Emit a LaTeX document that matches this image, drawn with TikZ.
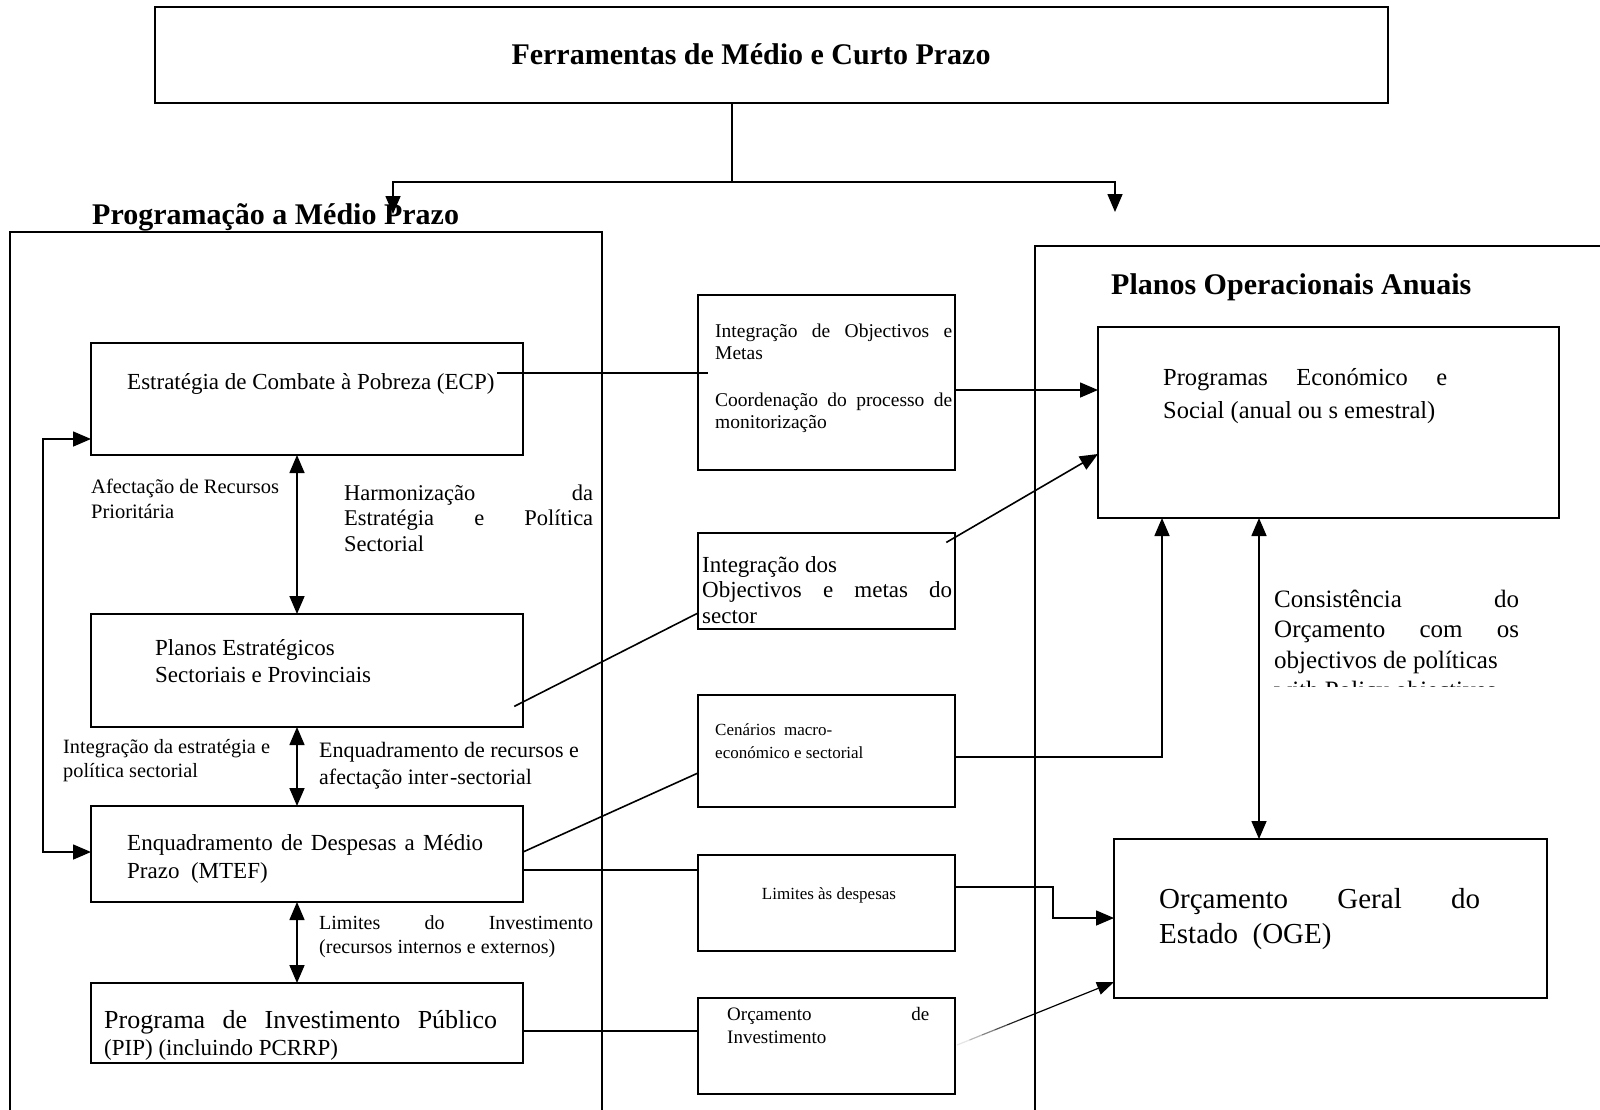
\documentclass[tikz,border=0pt]{standalone}
\usepackage{fontspec}
\setmainfont{Liberation Serif}
\usetikzlibrary{arrows.meta,calc}
% the ragged setting of a node fixes \spaceskip; \rs gives back the font's own spaces
\newcommand\rs{\spaceskip=0pt\xspaceskip=0pt\relax}
% one justified line spread over the width of the paragraph
\newcommand\jl[1]{\makebox[\hsize][s]{\rs #1}}
\newcommand\fsz[2]{\fontsize{#1}{#2}\selectfont}
\tikzset{
  frame/.style={draw, line width=1.6pt, rectangle, inner sep=0pt, outer sep=0pt, anchor=north west},
  conn/.style={line width=1.6pt, line cap=rect},
  arr/.style={conn, -{Triangle[length=18pt,width=15pt]}},
  darr/.style={conn, {Triangle[length=18pt,width=15pt]}-{Triangle[length=18pt,width=15pt]}},
  lbl/.style={inner sep=0pt, anchor=base west},
  para/.style={inner sep=0pt, anchor=base west, align=left, text width=#1},
  head/.style={inner sep=0pt, anchor=base west, font=\bfseries\fsz{30}{36}},
}
\begin{document}
\begin{tikzpicture}[x=1pt, y=-1pt]
\clip (0,0) rectangle (1600,1109);
\fill[white] (0,0) rectangle (1600,1109);

% ---- title and its split towards the two groups
\node[frame, minimum width=1233pt, minimum height=96pt] (top) at (155,7) {};
\node[head, anchor=base] (toptitle) at (751,64) {Ferramentas de Médio e Curto Prazo};

% ---- the two group frames (open towards the page edges)
\node[frame, minimum width=592pt, minimum height=920pt] (medio) at (10,232) {};
\node[head] (mediotitle) at (92,224) {Programação a Médio Prazo};
\node[frame, minimum width=620pt, minimum height=900pt] (anual) at (1035,246) {};
\node[head] (anualtitle) at (1111,294) {Planos Operacionais Anuais};

\coordinate (j) at (732,182);
\coordinate (jl) at (393,182);
\coordinate (jr) at (1115,182);
\coordinate (tl) at (393,214);
\coordinate (tr) at (1115,212);
\draw[conn] (j |- top.south) -- (j);
\draw[arr] (jr) -- (jl) -- (tl);
\draw[arr] (jr) -- (tr);

% ---- medium term programming
\node[frame, minimum width=432pt, minimum height=112pt] (ecp) at (91,343) {};
\node[lbl, font=\fsz{23}{26}] (ecpt) at (127,389) {Estratégia de Combate à Pobreza (ECP)};

\node[frame, minimum width=432pt, minimum height=113pt] (pes) at (91,614) {};
\node[para=360pt, font=\fsz{23}{27}] (pest) at (155,655) {\rs Planos Estratégicos\\Sectoriais e Provinciais};

\node[frame, minimum width=432pt, minimum height=96pt] (mtef) at (91,806) {};
\node[para=356pt, font=\fsz{23}{28}] (mteft) at (127,850)
  {\jl{Enquadramento de Despesas a Médio}\\\rs Prazo\ \ (MTEF)};

\node[frame, minimum width=432pt, minimum height=80pt] (pip) at (91,983) {};
\node[para=393pt, font=\fsz{26}{27}] (pipt) at (104,1028)
  {\jl{Programa de Investimento Público}\\{\fsz{23}{27}\rs (PIP) (incluindo PCRRP)}};

\node[para=240pt, font=\fsz{20.5}{25}] (afect) at (91,493) {\rs Afectação de Recursos\\Prioritária};
\node[para=249pt, font=\fsz{22.5}{25.5}] (harm) at (344,500)
  {\jl{Harmonização da}\\\jl{Estratégia e Política}\\Sectorial};
\node[para=240pt, font=\fsz{20.3}{24}] (integ) at (63,753) {\rs Integração da estratégia e\\política sectorial};
\node[para=300pt, font=\fsz{22}{27}] (enq) at (319,757) {\rs Enquadramento de recursos e\\afectação inter\kern2pt-sectorial};
\node[para=274pt, font=\fsz{20}{24}] (limi) at (319,929)
  {\jl{Limites do Investimento}\\\rs (recursos internos e externos)};

% vertical links between the planning layers
\coordinate (col) at (297,0);
\draw[darr] (col |- ecp.south) -- (col |- pes.north);
\draw[darr] (col |- pes.south) -- (col |- mtef.north);
\draw[darr] (col |- mtef.south) -- (col |- pip.north);
\draw[darr] ($(ecp.south west)+(0,-16)$) -| (43,852) -- ($(mtef.north west)+(0,46)$);

% ---- linking instruments
\node[frame, minimum width=257pt, minimum height=175pt] (b1) at (698,295) {};
\node[para=237pt, font=\fsz{19.5}{22}] (b1t) at (715,337)
  {\jl{Integração de Objectivos e}\\Metas\\[25pt]\jl{Coordenação do processo de}\\monitorização};

\node[frame, minimum width=257pt, minimum height=96pt] (b2) at (698,533) {};
\node[para=250pt, font=\fsz{23}{25.5}] (b2t) at (702,572)
  {\rs Integração dos\\\jl{Objectivos e metas do}\\sector};

\node[frame, minimum width=257pt, minimum height=112pt] (b3) at (698,695) {};
\node[para=220pt, font=\fsz{17}{23}] (b3t) at (715,735) {\rs Cenários\ \ macro-\\económico e sectorial};

\node[frame, minimum width=257pt, minimum height=96pt] (b4) at (698,855) {};
\node[lbl, anchor=base, font=\fsz{17}{20}] (b4t) at (829,899) {Limites às despesas};

\node[frame, minimum width=257pt, minimum height=96pt] (b5) at (698,998) {};
\node[para=202pt, font=\fsz{19}{23.5}] (b5t) at (727,1020) {\jl{Orçamento de}\\Investimento};

% ---- annual operational plans
\node[frame, minimum width=461pt, minimum height=191pt] (prog) at (1098,327) {};
\node[para=284pt, font=\fsz{24.5}{33}] (progt) at (1163,385)
  {\jl{Programas Económico e}\\\rs Social (anual ou s emestral)};

\node[frame, minimum width=433pt, minimum height=159pt] (oge) at (1114,839) {};
\node[para=321pt, font=\fsz{29}{35}] (oget) at (1159,908)
  {\jl{Orçamento Geral do}\\\rs Estado\ \ (OGE)};

\begin{scope}
  \clip (1200,560) rectangle (1560,686);
  \node[para=245pt, font=\fsz{25}{30.5}] (cons) at (1274,607)
    {\jl{Consistência do}\\\jl{Orçamento com os}\\\rs objectivos de políticas\\with Policy objectives};
\end{scope}

% ---- connectors between the groups
\draw[conn] ($(ecp.north east)+(-25,30)$) -- ($(b1.north west)+(9,78)$);
\draw[arr] ($(b1.north east)+(0,95)$) coordinate (p1) -- (p1 -| prog.west);
\draw[conn] ($(pes.north east)+(-8,92)$) -- ($(b2.south west)+(0,-16)$);
\draw[arr] ($(b2.north east)+(-8,9)$) -- ($(prog.north west)+(0,127)$);
\draw[conn] ($(mtef.north east)+(0,46)$) -- ($(b3.north west)+(0,78)$);
\draw[arr] ($(b3.north east)+(0,62)$) -| ($(prog.south west)+(64,0)$);
\draw[darr] ($(prog.south west)+(161,0)$) -- ($(oge.north west)+(145,0)$);
\draw[conn] ($(mtef.north east)+(0,64)$) coordinate (p4) -- (p4 -| b4.west);
\draw[arr] ($(b4.north east)+(0,32)$) -- (1053,887) |- ($(oge.north west)+(0,79)$);
\draw[conn] ($(pip.north east)+(0,48)$) coordinate (p5) -- (p5 -| b5.west);

% faint line fading in from the investment budget
\coordinate (s5) at ($(b5.north east)+(2,47)$);
\coordinate (e5) at ($(oge.south west)+(0,-16)$);
\foreach \a/\b/\c in {0/0.08/10,0.08/0.16/28,0.16/0.24/48,0.24/0.32/68,0.32/0.40/86}
  \draw[line width=1.2pt, black!\c] ($(s5)!\a!(e5)$) -- ($(s5)!\b!(e5)$);
\draw[line width=1.2pt, -{Triangle[length=17pt,width=13pt]}] ($(s5)!0.4!(e5)$) -- (e5);
\end{tikzpicture}
\end{document}
